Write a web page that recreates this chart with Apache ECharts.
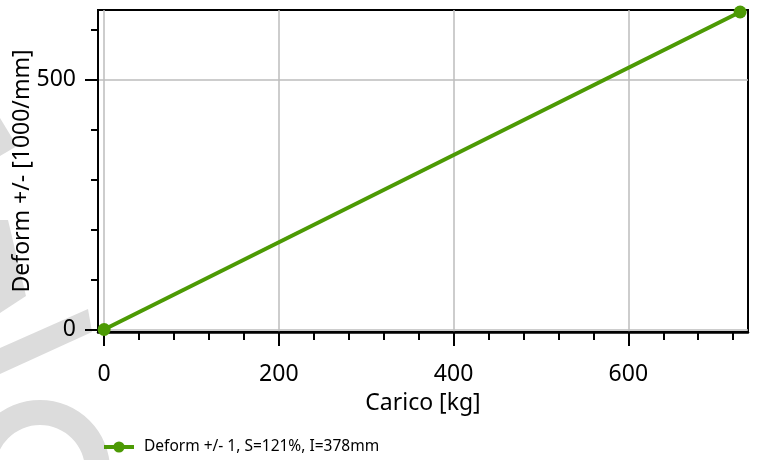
<!DOCTYPE html>
<html>
<head>
<meta charset="utf-8">
<script src="https://cdn.jsdelivr.net/npm/echarts@6/dist/echarts.min.js"></script>
<style>
  html, body { margin: 0; padding: 0; background: #fff; }
  #chart { width: 757px; height: 460px; }
</style>
</head>
<body>
<div id="chart"></div>
<script>
// Load (kg) vs deformation (1/1000 mm)
const seriesName = 'Deform +/- 1, S=121%, I=378mm';
const loadKg = [0, 728];
const deformValues = [0, 636];

// Axis tick positions
const xMajorTicks = [0, 200, 400, 600];
const xMinorTicks = [40, 80, 120, 160, 240, 280, 320, 360, 440, 480, 520, 560, 640, 680, 720];
const yMajorTicks = [0, 500];
const yMinorTicks = [100, 200, 300, 400, 600];

const FONT = 'Noto Sans';
const GREEN = '#4c9a04';
const GRID_GRAY = '#bdbdbd';
const AXIS_FONT_SIZE = 23;

const chart = echarts.init(document.getElementById('chart'), null, { renderer: 'canvas' });

const xRange = { min: -7, max: 737 };
const yRange = { min: -5, max: 640 };

const option = {
  backgroundColor: '#ffffff',
  animation: false,
  textStyle: { fontFamily: FONT },
  graphic: [
    // faint background mark on the left edge
    { type: 'polygon', z: -10, silent: true, shape: { points: [[0, 118], [17, 146], [0, 156]] }, style: { fill: '#dcdcdc' } },
    { type: 'polygon', z: -10, silent: true, shape: { points: [[0, 220], [8, 220], [26, 296], [0, 313]] }, style: { fill: '#dcdcdc' } },
    { type: 'polygon', z: -10, silent: true, shape: { points: [[0, 348], [88, 309], [92, 332], [0, 374]] }, style: { fill: '#dcdcdc' } },
    { type: 'ring', z: -10, silent: true, shape: { cx: 40, cy: 470, r: 70, r0: 45 }, style: { fill: '#dcdcdc' } }
  ],
  grid: {
    left: 98, top: 10, right: 9, bottom: 128,
    outerBoundsMode: 'none',
    containLabel: false,
    show: true, borderColor: '#000', borderWidth: 2, backgroundColor: 'transparent'
  },
  legend: {
    left: 102, top: 439, padding: 0,
    itemWidth: 30, itemHeight: 14, itemGap: 10,
    lineStyle: { width: 4 },
    textStyle: { fontFamily: FONT, fontSize: 15.5, color: '#000', padding: [0, 0, 0, 5] },
    data: [seriesName]
  },
  xAxis: [
    {
      type: 'value', position: 'bottom', min: xRange.min, max: xRange.max,
      axisLine: { show: true, onZero: false, lineStyle: { color: '#000', width: 2.5 } },
      axisTick: { show: true, customValues: xMajorTicks, length: 14, lineStyle: { color: '#000', width: 2 } },
      axisLabel: { customValues: xMajorTicks, fontSize: AXIS_FONT_SIZE, color: '#000', margin: 31, fontFamily: FONT },
      splitLine: { show: true, lineStyle: { color: GRID_GRAY, width: 1.5 } },
      name: 'Carico [kg]', nameLocation: 'middle', nameGap: 60, nameMoveOverlap: false,
      nameTextStyle: { fontSize: AXIS_FONT_SIZE, color: '#000', fontFamily: FONT }
    },
    {
      type: 'value', position: 'bottom', min: xRange.min, max: xRange.max,
      axisLine: { show: false, onZero: false },
      axisTick: { show: true, customValues: xMinorTicks, length: 8, lineStyle: { color: '#000', width: 2 } },
      axisLabel: { show: false },
      splitLine: { show: false }
    }
  ],
  yAxis: [
    {
      type: 'value', position: 'left', min: yRange.min, max: yRange.max,
      axisLine: { show: true, onZero: false, lineStyle: { color: '#000', width: 2 } },
      axisTick: { show: true, customValues: yMajorTicks, length: 13, lineStyle: { color: '#000', width: 2 } },
      axisLabel: { customValues: yMajorTicks, fontSize: AXIS_FONT_SIZE, color: '#000', margin: 22, fontFamily: FONT },
      splitLine: { show: true, lineStyle: { color: GRID_GRAY, width: 1.5 } },
      name: 'Deform +/- [1000/mm]', nameLocation: 'middle', nameGap: 64, nameRotate: 90, nameMoveOverlap: false,
      nameTextStyle: { fontSize: AXIS_FONT_SIZE, color: '#000', fontFamily: FONT }
    },
    {
      type: 'value', position: 'left', min: yRange.min, max: yRange.max,
      axisLine: { show: false, onZero: false },
      axisTick: { show: true, customValues: yMinorTicks, length: 7, lineStyle: { color: '#000', width: 2 } },
      axisLabel: { show: false },
      splitLine: { show: false }
    }
  ],
  series: [
    {
      name: seriesName,
      type: 'line',
      xAxisIndex: 0, yAxisIndex: 0,
      data: loadKg.map((x, i) => [x, deformValues[i]]),
      symbol: 'circle', symbolSize: 13, showSymbol: true,
      clip: false,
      lineStyle: { color: GREEN, width: 4 },
      itemStyle: { color: GREEN },
      z: 5
    }
  ]
};

chart.setOption(option);
</script>
</body>
</html>
